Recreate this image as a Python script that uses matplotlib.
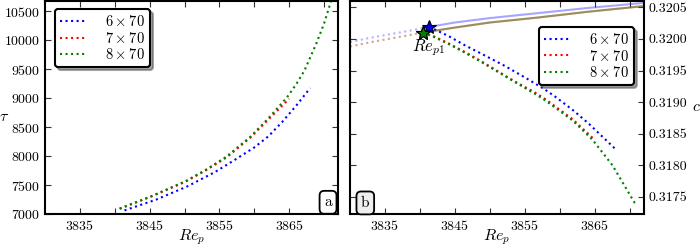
import matplotlib
matplotlib.use('Agg')
import matplotlib.pyplot as plt
from matplotlib.ticker import FixedLocator, FormatStrFormatter

plt.rcParams['font.family'] = 'serif'
plt.rcParams['font.serif'] = ['cmr10', 'DejaVu Serif']
plt.rcParams['mathtext.fontset'] = 'cm'
plt.rcParams['axes.formatter.use_mathtext'] = True
plt.rcParams['font.size'] = 10

# panel a : tau vs Re_p
re_a6 = [3841.4, 3845.9, 3850.4, 3854.4, 3857.0, 3860.0, 3862.0, 3864.0, 3866.0, 3868.0]
tau_a6 = [7062, 7247, 7477, 7727, 7920, 8150, 8340, 8590, 8870, 9175]
re_a7 = [3840.7, 3845.2, 3850.1, 3853.0, 3856.0, 3859.4, 3862.0, 3865.0]
tau_a7 = [7092, 7300, 7555, 7750, 7975, 8315, 8630, 8990]
re_a8 = [3840.7, 3845.2, 3850.1, 3853.0, 3856.0, 3859.4, 3862.0, 3864.7, 3866.0, 3867.2, 3868.9, 3870.0, 3871.0]
tau_a8 = [7092, 7305, 7564, 7760, 7990, 8330, 8650, 9017, 9240, 9480, 9948, 10290, 10675]

# panel b : c vs Re_p
re_b6 = [3841.3, 3842.1, 3844.0, 3846.4, 3848.7, 3852.0, 3855.0, 3857.7, 3859.4, 3862.0, 3864.2, 3866.0, 3867.8]
c_b6 = [0.32019, 0.32015, 0.32005, 0.31990, 0.31977, 0.31958, 0.31939, 0.31921, 0.31908, 0.31886, 0.31865, 0.31846, 0.31827]
re_b7 = [3840.4, 3842.0, 3843.9, 3846.3, 3848.7, 3851.1, 3853.5, 3856.3, 3858.0, 3861.8, 3864.7]
c_b7 = [0.32010, 0.32004, 0.31994, 0.31980, 0.31965, 0.31949, 0.31933, 0.31916, 0.31904, 0.31873, 0.31843]
re_b8 = [3840.4, 3842.0, 3843.9, 3846.3, 3848.7, 3851.1, 3853.5, 3856.3, 3858.0, 3861.8, 3864.7, 3865.1, 3867.5, 3870.8]
c_b8 = [0.32010, 0.32003, 0.31993, 0.31979, 0.31964, 0.31948, 0.31932, 0.31914, 0.31902, 0.31871, 0.31840, 0.31834, 0.31800, 0.31738]

# upper branch (faded dotted to the left, solid to the right)
re_up6_left = [3830.0, 3833.0, 3836.0, 3839.0, 3841.3]
c_up6_left = [0.31995, 0.32002, 0.32008, 0.32014, 0.32019]
re_up6_right = [3841.3, 3845.0, 3850.0, 3857.0, 3864.0, 3872.0]
c_up6_right = [0.32019, 0.32026, 0.32033, 0.32041, 0.32049, 0.32057]
re_up78_left = [3830.0, 3833.0, 3836.0, 3838.0, 3840.4]
c_up78_left = [0.31988, 0.31995, 0.32001, 0.32005, 0.32010]
re_up78_right = [3840.4, 3845.0, 3850.0, 3857.0, 3864.0, 3872.0]
c_up78_right = [0.32010, 0.32018, 0.32026, 0.32034, 0.32043, 0.32052]

rep1_6 = (3841.3, 0.32019)
rep1_78 = (3840.4, 0.32010)

labels = [r'$6\times70$', r'$7\times70$', r'$8\times70$']
colors = ['blue', 'red', 'green']

fig = plt.figure(figsize=(7, 2.5), dpi=100)
ax1 = fig.add_axes([45/700, 36/250, 293/700, 213/250])
ax2 = fig.add_axes([350/700, 36/250, 294/700, 213/250])

lw = 1.5
ax1.plot(re_a6, tau_a6, ':', color=colors[0], lw=lw, label=labels[0])
ax1.plot(re_a7, tau_a7, ':', color=colors[1], lw=lw, label=labels[1])
ax1.plot(re_a8, tau_a8, ':', color=colors[2], lw=lw, label=labels[2])

ax2.plot(re_up6_left, c_up6_left, ':', color='blue', lw=lw, alpha=0.3)
ax2.plot(re_up78_left, c_up78_left, ':', color='red', lw=lw, alpha=0.3)
ax2.plot(re_up78_left, c_up78_left, ':', color='green', lw=lw, alpha=0.2)
ax2.plot(re_up6_right, c_up6_right, '-', color='blue', lw=lw, alpha=0.35)
ax2.plot(re_up78_right, c_up78_right, '-', color='red', lw=lw, alpha=0.4)
ax2.plot(re_up78_right, c_up78_right, '-', color='green', lw=lw, alpha=0.4)

ax2.plot(re_b6, c_b6, ':', color=colors[0], lw=lw, label=labels[0])
ax2.plot(re_b7, c_b7, ':', color=colors[1], lw=lw, label=labels[1])
ax2.plot(re_b8, c_b8, ':', color=colors[2], lw=lw, label=labels[2])

ax2.plot(*rep1_6, '*', color='blue', mec='black', mew=0.8, ms=10, zorder=5)
ax2.plot(*rep1_78, '*', color='red', mec='black', mew=0.8, ms=10, zorder=5)
ax2.plot(*rep1_78, '*', color='green', mec='black', mew=0.8, ms=10, zorder=6)
ax2.text(3841.2, 0.31986, r'$Re_{p1}$', ha='center', va='center', fontsize=12)

for ax in (ax1, ax2):
    ax.set_xlim(3830, 3872)
    ax.xaxis.set_major_locator(FixedLocator([3835, 3845, 3855, 3865]))
    ax.xaxis.set_minor_locator(FixedLocator([3840, 3850, 3860, 3870]))
    ax.tick_params(which='both', direction='in', top=True, right=True,
                   length=4, width=0.8, color='0.2')
    for s in ax.spines.values():
        s.set_linewidth(1.5)
    ax.set_xlabel(r'$Re_p$', fontsize=11.5, va='center')
    ax.xaxis.set_label_coords(0.5, -0.11)

ax1.set_ylim(7000, 10680)
ax1.set_yticks([7000, 7500, 8000, 8500, 9000, 9500, 10000, 10500])
ax1.set_ylabel(r'$\tau$', rotation=0, fontsize=11.5, va='center', ha='center')
ax1.yaxis.set_label_coords(-0.14, 0.455)

ax2.set_ylim(0.31723, 0.32060)
ax2.set_yticks([0.3175, 0.3180, 0.3185, 0.3190, 0.3195, 0.3200, 0.3205])
ax2.yaxis.set_major_formatter(FormatStrFormatter('%.4f'))
ax2.tick_params(axis='y', labelleft=False, labelright=True)
ax2.yaxis.set_label_position('right')
ax2.set_ylabel(r'$c$', rotation=0, fontsize=11.5, labelpad=6, va='center')

leg_kw = dict(fancybox=True, shadow=True, framealpha=1, edgecolor='black',
              handlelength=1.7, handletextpad=1.4, labelspacing=0.1,
              borderpad=0.35, borderaxespad=0, fontsize=10.5)
leg1 = ax1.legend(loc='upper left', bbox_to_anchor=(0.034, 0.962), **leg_kw)
leg2 = ax2.legend(loc='upper right', bbox_to_anchor=(0.966, 0.878), **leg_kw)
for leg in (leg1, leg2):
    leg.get_frame().set_linewidth(1.5)

box = dict(boxstyle='round,pad=0.3', fc='white', ec='black', lw=1.3)
ax1.text(0.966, 0.055, 'a', transform=ax1.transAxes, ha='center', va='center',
         fontsize=11, bbox=box)
box_b = dict(box, fc='#eeeeee')
ax2.text(0.052, 0.052, 'b', transform=ax2.transAxes, ha='center', va='center',
         fontsize=11, bbox=box_b)

fig.savefig('out.png', dpi=100)
